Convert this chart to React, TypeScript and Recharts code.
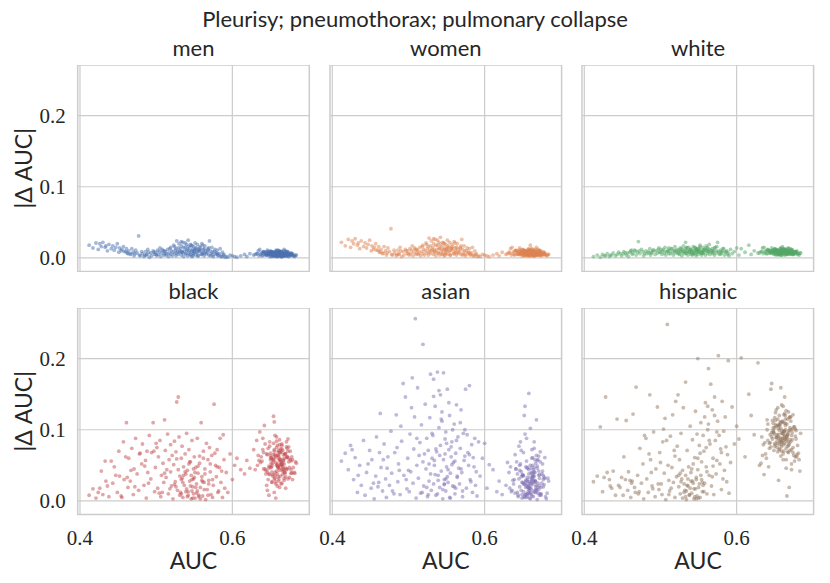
import { ScatterChart, Scatter, XAxis, YAxis, CartesianGrid, ReferenceArea } from 'recharts';

// model AUC (shared by all groups), one entry per model
const auc = [
  0.412, 0.417, 0.421, 0.424, 0.428, 0.430, 0.433, 0.436, 0.438, 0.441,
  0.443, 0.445, 0.449, 0.451, 0.452, 0.455, 0.457, 0.458, 0.461, 0.463,
  0.464, 0.466, 0.468, 0.470, 0.471, 0.473, 0.475, 0.477, 0.478, 0.481,
  0.482, 0.484, 0.486, 0.487, 0.489, 0.491, 0.493, 0.494, 0.496, 0.498,
  0.499, 0.501, 0.502, 0.503, 0.505, 0.506, 0.507, 0.509, 0.510, 0.511,
  0.512, 0.513, 0.515, 0.516, 0.517, 0.519, 0.519, 0.520, 0.521, 0.522,
  0.523, 0.524, 0.525, 0.526, 0.527, 0.528, 0.529, 0.529, 0.530, 0.531,
  0.532, 0.533, 0.533, 0.534, 0.535, 0.536, 0.537, 0.538, 0.539, 0.540,
  0.540, 0.541, 0.542, 0.543, 0.544, 0.545, 0.546, 0.546, 0.547, 0.548,
  0.549, 0.549, 0.550, 0.551, 0.552, 0.553, 0.554, 0.554, 0.555, 0.556,
  0.557, 0.558, 0.559, 0.560, 0.561, 0.562, 0.563, 0.564, 0.565, 0.566,
  0.567, 0.568, 0.569, 0.570, 0.571, 0.572, 0.573, 0.575, 0.576, 0.578,
  0.579, 0.580, 0.581, 0.583, 0.584, 0.585, 0.587, 0.588, 0.589, 0.590,
  0.592, 0.594, 0.597, 0.600, 0.603, 0.606, 0.611, 0.616, 0.619, 0.623,
  0.628, 0.641, 0.655, 0.662, 0.670, 0.649, 0.677, 0.659, 0.645, 0.666,
  0.632, 0.651, 0.660, 0.668, 0.674, 0.646, 0.657, 0.663, 0.681, 0.653,
  0.636, 0.648, 0.656, 0.664, 0.671, 0.652, 0.661, 0.667, 0.643, 0.675,
  0.639, 0.654, 0.658, 0.665, 0.672, 0.650, 0.662, 0.669, 0.684, 0.647,
  0.642, 0.657, 0.661, 0.667, 0.673, 0.653, 0.659, 0.664, 0.679, 0.655,
  0.644, 0.650, 0.663, 0.666, 0.670, 0.656, 0.660, 0.668, 0.676, 0.648,
  0.646, 0.658, 0.662, 0.669, 0.674, 0.652, 0.665, 0.671, 0.680, 0.634,
  0.649, 0.655, 0.660, 0.665, 0.672, 0.657, 0.663, 0.668, 0.678, 0.640,
  0.651, 0.656, 0.661, 0.667, 0.671, 0.654, 0.659, 0.664, 0.682, 0.630,
  0.426, 0.447, 0.460, 0.472, 0.485, 0.497, 0.508, 0.514, 0.524, 0.531,
  0.535, 0.538, 0.541, 0.544, 0.547, 0.550, 0.552, 0.555, 0.558, 0.561,
  0.434, 0.454, 0.467, 0.479, 0.490, 0.500, 0.511, 0.518, 0.527, 0.533,
  0.536, 0.539, 0.543, 0.545, 0.548, 0.551, 0.553, 0.557, 0.560, 0.563,
  0.564, 0.568, 0.571, 0.574, 0.577, 0.582, 0.586, 0.462, 0.488, 0.504,
  0.526, 0.534, 0.542, 0.549, 0.556, 0.562, 0.569, 0.574, 0.580, 0.547,
  0.633, 0.645, 0.652, 0.658, 0.663, 0.667, 0.672, 0.677, 0.655, 0.661,
  0.637, 0.648, 0.654, 0.659, 0.664, 0.668, 0.673, 0.679, 0.650, 0.666,
  0.640, 0.647, 0.653, 0.660, 0.662, 0.669, 0.674, 0.656, 0.665, 0.671,
  0.643, 0.649, 0.656, 0.661, 0.666, 0.670, 0.676, 0.652, 0.658, 0.663,
  0.638, 0.651, 0.657, 0.662, 0.667, 0.672, 0.678, 0.654, 0.660, 0.665,
  0.644, 0.650, 0.655, 0.659, 0.664, 0.669, 0.675, 0.683, 0.657, 0.662,
  0.641, 0.646, 0.653, 0.658, 0.663, 0.668, 0.673, 0.651, 0.660, 0.666,
  0.635, 0.648, 0.654, 0.661, 0.665, 0.670, 0.677, 0.656, 0.659, 0.664,
];

// |delta AUC| per group, same order as auc
const menDelta = [
  0.018, 0.014, 0.021, 0.012, 0.016, 0.022, 0.015, 0.010, 0.019, 0.013,
  0.017, 0.011, 0.020, 0.008, 0.014, 0.012, 0.016, 0.009, 0.013, 0.006,
  0.010, 0.005, 0.013, 0.008, 0.003, 0.011, 0.007, 0.031, 0.004, 0.009,
  0.006, 0.002, 0.009, 0.004, 0.012, 0.001, 0.007, 0.003, 0.010, 0.005,
  0.008, 0.003, 0.011, 0.005, 0.014, 0.002, 0.007, 0.010, 0.004, 0.006,
  0.009, 0.004, 0.012, 0.002, 0.007, 0.015, 0.005, 0.010, 0.003, 0.008,
  0.018, 0.006, 0.011, 0.003, 0.024, 0.009, 0.014, 0.005, 0.020, 0.008,
  0.013, 0.004, 0.017, 0.008, 0.022, 0.002, 0.010, 0.015, 0.006, 0.019,
  0.011, 0.003, 0.025, 0.007, 0.014, 0.005, 0.018, 0.009, 0.002, 0.012,
  0.016, 0.006, 0.010, 0.021, 0.004, 0.013, 0.008, 0.019, 0.003, 0.011,
  0.009, 0.014, 0.005, 0.020, 0.007, 0.012, 0.003, 0.017, 0.010, 0.006,
  0.008, 0.013, 0.004, 0.024, 0.010, 0.006, 0.015, 0.002, 0.009, 0.005,
  0.007, 0.011, 0.003, 0.006, 0.013, 0.002, 0.008, 0.004, 0.005, 0.001,
  0.002, 0.001, 0.004, 0.003, 0.002, 0.001, 0.003, 0.005, 0.002, 0.006,
  0.004, 0.008, 0.006, 0.003, 0.010, 0.005, 0.007, 0.002, 0.009, 0.004,
  0.006, 0.003, 0.009, 0.005, 0.002, 0.011, 0.004, 0.007, 0.003, 0.008,
  0.012, 0.005, 0.003, 0.008, 0.006, 0.002, 0.010, 0.004, 0.007, 0.005,
  0.003, 0.007, 0.011, 0.002, 0.005, 0.008, 0.006, 0.003, 0.004, 0.009,
  0.008, 0.004, 0.006, 0.010, 0.003, 0.005, 0.002, 0.009, 0.006, 0.007,
  0.005, 0.010, 0.002, 0.006, 0.008, 0.004, 0.011, 0.003, 0.005, 0.006,
  0.007, 0.003, 0.008, 0.004, 0.006, 0.009, 0.002, 0.005, 0.003, 0.010,
  0.002, 0.006, 0.004, 0.009, 0.003, 0.007, 0.005, 0.012, 0.006, 0.004,
  0.009, 0.002, 0.007, 0.005, 0.004, 0.003, 0.008, 0.006, 0.002, 0.005,
  0.020, 0.015, 0.009, 0.006, 0.004, 0.008, 0.012, 0.006, 0.016, 0.010,
  0.007, 0.021, 0.012, 0.004, 0.017, 0.009, 0.014, 0.003, 0.011, 0.018,
  0.017, 0.010, 0.006, 0.003, 0.008, 0.005, 0.010, 0.013, 0.007, 0.023,
  0.015, 0.006, 0.010, 0.019, 0.003, 0.012, 0.008, 0.016, 0.005, 0.013,
  0.006, 0.011, 0.003, 0.008, 0.012, 0.004, 0.002, 0.007, 0.005, 0.009,
  0.013, 0.009, 0.016, 0.006, 0.012, 0.008, 0.014, 0.004, 0.006, 0.010,
  0.006, 0.004, 0.008, 0.005, 0.007, 0.003, 0.009, 0.005, 0.006, 0.004,
  0.005, 0.007, 0.003, 0.009, 0.004, 0.006, 0.008, 0.004, 0.007, 0.005,
  0.008, 0.005, 0.006, 0.003, 0.010, 0.005, 0.004, 0.007, 0.006, 0.003,
  0.004, 0.009, 0.005, 0.007, 0.006, 0.008, 0.003, 0.006, 0.004, 0.008,
  0.007, 0.003, 0.010, 0.005, 0.004, 0.006, 0.005, 0.008, 0.006, 0.002,
  0.005, 0.006, 0.004, 0.008, 0.007, 0.003, 0.006, 0.004, 0.009, 0.005,
  0.009, 0.004, 0.007, 0.006, 0.003, 0.005, 0.008, 0.006, 0.004, 0.007,
  0.003, 0.006, 0.005, 0.004, 0.008, 0.007, 0.004, 0.005, 0.007, 0.006,
];

const womenDelta = [
  0.022, 0.017, 0.026, 0.015, 0.020, 0.027, 0.018, 0.013, 0.024, 0.016,
  0.021, 0.014, 0.025, 0.010, 0.017, 0.015, 0.020, 0.011, 0.016, 0.008,
  0.012, 0.006, 0.016, 0.010, 0.004, 0.014, 0.009, 0.041, 0.005, 0.011,
  0.007, 0.003, 0.011, 0.005, 0.015, 0.002, 0.009, 0.004, 0.012, 0.006,
  0.010, 0.004, 0.013, 0.006, 0.017, 0.003, 0.008, 0.012, 0.005, 0.007,
  0.011, 0.005, 0.015, 0.003, 0.009, 0.018, 0.006, 0.012, 0.004, 0.010,
  0.021, 0.007, 0.013, 0.004, 0.028, 0.011, 0.017, 0.006, 0.024, 0.010,
  0.015, 0.005, 0.020, 0.009, 0.026, 0.003, 0.012, 0.018, 0.007, 0.022,
  0.013, 0.004, 0.029, 0.008, 0.016, 0.006, 0.021, 0.011, 0.003, 0.014,
  0.019, 0.007, 0.012, 0.025, 0.005, 0.015, 0.009, 0.022, 0.004, 0.013,
  0.011, 0.016, 0.006, 0.023, 0.008, 0.014, 0.004, 0.020, 0.012, 0.007,
  0.009, 0.015, 0.005, 0.026, 0.012, 0.007, 0.017, 0.003, 0.010, 0.006,
  0.008, 0.013, 0.004, 0.007, 0.015, 0.003, 0.010, 0.005, 0.006, 0.002,
  0.003, 0.002, 0.005, 0.004, 0.003, 0.002, 0.004, 0.006, 0.003, 0.008,
  0.005, 0.010, 0.007, 0.004, 0.012, 0.006, 0.009, 0.003, 0.011, 0.005,
  0.008, 0.004, 0.011, 0.006, 0.003, 0.014, 0.005, 0.009, 0.004, 0.010,
  0.015, 0.006, 0.004, 0.010, 0.007, 0.003, 0.012, 0.005, 0.009, 0.006,
  0.004, 0.009, 0.013, 0.003, 0.006, 0.010, 0.008, 0.004, 0.005, 0.011,
  0.010, 0.005, 0.008, 0.012, 0.004, 0.006, 0.003, 0.011, 0.007, 0.009,
  0.006, 0.012, 0.003, 0.008, 0.010, 0.005, 0.018, 0.004, 0.006, 0.007,
  0.009, 0.004, 0.010, 0.005, 0.008, 0.011, 0.003, 0.006, 0.004, 0.013,
  0.003, 0.008, 0.005, 0.011, 0.004, 0.009, 0.006, 0.015, 0.007, 0.005,
  0.011, 0.003, 0.009, 0.006, 0.005, 0.004, 0.010, 0.008, 0.003, 0.006,
  0.024, 0.019, 0.011, 0.007, 0.005, 0.010, 0.014, 0.007, 0.019, 0.012,
  0.008, 0.025, 0.014, 0.005, 0.020, 0.011, 0.017, 0.004, 0.013, 0.021,
  0.021, 0.012, 0.007, 0.004, 0.010, 0.006, 0.012, 0.016, 0.008, 0.027,
  0.018, 0.007, 0.012, 0.022, 0.004, 0.014, 0.010, 0.019, 0.006, 0.015,
  0.007, 0.013, 0.004, 0.010, 0.014, 0.005, 0.003, 0.008, 0.006, 0.011,
  0.016, 0.011, 0.019, 0.007, 0.014, 0.010, 0.017, 0.005, 0.007, 0.012,
  0.007, 0.005, 0.010, 0.006, 0.009, 0.004, 0.011, 0.006, 0.008, 0.005,
  0.006, 0.009, 0.004, 0.011, 0.005, 0.008, 0.010, 0.005, 0.009, 0.006,
  0.010, 0.006, 0.008, 0.004, 0.013, 0.006, 0.005, 0.009, 0.007, 0.004,
  0.005, 0.011, 0.006, 0.009, 0.008, 0.010, 0.004, 0.007, 0.005, 0.010,
  0.009, 0.004, 0.012, 0.006, 0.005, 0.008, 0.006, 0.010, 0.007, 0.003,
  0.006, 0.008, 0.005, 0.010, 0.009, 0.004, 0.007, 0.005, 0.011, 0.006,
  0.011, 0.005, 0.009, 0.007, 0.004, 0.006, 0.010, 0.008, 0.005, 0.009,
  0.004, 0.007, 0.006, 0.005, 0.010, 0.009, 0.005, 0.006, 0.008, 0.007,
];

const whiteDelta = [
  0.002, 0.004, 0.001, 0.005, 0.003, 0.006, 0.002, 0.004, 0.007, 0.003,
  0.005, 0.008, 0.003, 0.006, 0.009, 0.004, 0.007, 0.002, 0.010, 0.005,
  0.007, 0.011, 0.004, 0.008, 0.023, 0.006, 0.012, 0.009, 0.003, 0.010,
  0.006, 0.009, 0.013, 0.004, 0.008, 0.011, 0.005, 0.010, 0.007, 0.014,
  0.008, 0.012, 0.005, 0.010, 0.007, 0.015, 0.004, 0.009, 0.011, 0.006,
  0.010, 0.006, 0.013, 0.008, 0.004, 0.011, 0.016, 0.007, 0.009, 0.012,
  0.007, 0.011, 0.005, 0.014, 0.009, 0.003, 0.012, 0.008, 0.017, 0.006,
  0.009, 0.013, 0.022, 0.006, 0.010, 0.004, 0.015, 0.008, 0.011, 0.005,
  0.012, 0.007, 0.004, 0.016, 0.009, 0.011, 0.006, 0.014, 0.003, 0.008,
  0.010, 0.005, 0.013, 0.008, 0.018, 0.006, 0.011, 0.004, 0.009, 0.015,
  0.007, 0.012, 0.004, 0.010, 0.014, 0.006, 0.009, 0.019, 0.005, 0.011,
  0.008, 0.013, 0.006, 0.010, 0.004, 0.015, 0.007, 0.022, 0.009, 0.005,
  0.011, 0.006, 0.009, 0.013, 0.004, 0.008, 0.010, 0.005, 0.007, 0.003,
  0.012, 0.006, 0.009, 0.014, 0.004, 0.013, 0.008, 0.018, 0.005, 0.010,
  0.007, 0.011, 0.005, 0.009, 0.013, 0.006, 0.008, 0.004, 0.010, 0.007,
  0.009, 0.006, 0.012, 0.008, 0.005, 0.014, 0.007, 0.010, 0.006, 0.011,
  0.015, 0.008, 0.006, 0.011, 0.009, 0.004, 0.013, 0.007, 0.010, 0.005,
  0.006, 0.010, 0.014, 0.005, 0.008, 0.012, 0.009, 0.006, 0.007, 0.011,
  0.011, 0.007, 0.009, 0.013, 0.005, 0.008, 0.004, 0.012, 0.010, 0.006,
  0.008, 0.013, 0.004, 0.009, 0.011, 0.007, 0.016, 0.005, 0.008, 0.009,
  0.010, 0.005, 0.011, 0.007, 0.009, 0.012, 0.006, 0.008, 0.005, 0.014,
  0.005, 0.009, 0.007, 0.012, 0.006, 0.010, 0.008, 0.014, 0.009, 0.006,
  0.012, 0.004, 0.010, 0.008, 0.006, 0.005, 0.011, 0.009, 0.004, 0.007,
  0.003, 0.006, 0.008, 0.010, 0.007, 0.012, 0.009, 0.013, 0.006, 0.010,
  0.014, 0.008, 0.011, 0.006, 0.013, 0.009, 0.016, 0.007, 0.012, 0.010,
  0.004, 0.007, 0.010, 0.006, 0.011, 0.008, 0.014, 0.010, 0.013, 0.007,
  0.009, 0.012, 0.006, 0.015, 0.010, 0.013, 0.008, 0.011, 0.017, 0.009,
  0.012, 0.008, 0.014, 0.010, 0.006, 0.013, 0.009, 0.011, 0.007, 0.012,
  0.010, 0.015, 0.008, 0.012, 0.007, 0.014, 0.010, 0.016, 0.009, 0.011,
  0.009, 0.007, 0.011, 0.008, 0.010, 0.006, 0.012, 0.008, 0.009, 0.007,
  0.008, 0.010, 0.006, 0.012, 0.007, 0.009, 0.011, 0.007, 0.010, 0.008,
  0.011, 0.008, 0.009, 0.006, 0.013, 0.008, 0.007, 0.010, 0.009, 0.006,
  0.007, 0.012, 0.008, 0.010, 0.009, 0.011, 0.006, 0.009, 0.007, 0.011,
  0.010, 0.006, 0.013, 0.008, 0.007, 0.009, 0.008, 0.011, 0.009, 0.005,
  0.008, 0.009, 0.007, 0.011, 0.010, 0.006, 0.009, 0.007, 0.012, 0.008,
  0.012, 0.007, 0.010, 0.009, 0.006, 0.008, 0.011, 0.009, 0.007, 0.010,
  0.006, 0.009, 0.008, 0.007, 0.011, 0.010, 0.007, 0.008, 0.010, 0.009,
];

const blackDelta = [
  0.008, 0.017, 0.004, 0.012, 0.042, 0.009, 0.056, 0.021, 0.006, 0.056,
  0.025, 0.048, 0.012, 0.070, 0.035, 0.005, 0.083, 0.030, 0.110, 0.019,
  0.060, 0.028, 0.074, 0.009, 0.045, 0.088, 0.038, 0.015, 0.066, 0.052,
  0.080, 0.022, 0.057, 0.004, 0.040, 0.092, 0.031, 0.068, 0.110, 0.013,
  0.047, 0.075, 0.018, 0.062, 0.085, 0.006, 0.036, 0.053, 0.026, 0.114,
  0.071, 0.033, 0.094, 0.010, 0.058, 0.041, 0.079, 0.021, 0.064, 0.003,
  0.051, 0.084, 0.027, 0.069, 0.139, 0.015, 0.146, 0.044, 0.090, 0.035,
  0.012, 0.060, 0.030, 0.077, 0.005, 0.048, 0.022, 0.066, 0.038, 0.095,
  0.017, 0.043, 0.008, 0.072, 0.028, 0.055, 0.003, 0.036, 0.085, 0.020,
  0.010, 0.031, 0.062, 0.004, 0.047, 0.024, 0.088, 0.014, 0.039, 0.006,
  0.053, 0.019, 0.110, 0.034, 0.007, 0.070, 0.026, 0.045, 0.002, 0.081,
  0.016, 0.058, 0.029, 0.075, 0.041, 0.009, 0.064, 0.022, 0.136, 0.050,
  0.034, 0.072, 0.012, 0.047, 0.088, 0.026, 0.005, 0.093, 0.058, 0.018,
  0.040, 0.012, 0.066, 0.030, 0.050, 0.060, 0.044, 0.038, 0.057, 0.046,
  0.072, 0.045, 0.031, 0.058, 0.066, 0.083, 0.039, 0.052, 0.022, 0.049,
  0.085, 0.061, 0.047, 0.029, 0.076, 0.015, 0.054, 0.068, 0.040, 0.035,
  0.097, 0.038, 0.063, 0.051, 0.044, 0.026, 0.071, 0.057, 0.080, 0.033,
  0.056, 0.119, 0.042, 0.078, 0.062, 0.048, 0.019, 0.066, 0.053, 0.074,
  0.106, 0.024, 0.059, 0.046, 0.087, 0.037, 0.064, 0.052, 0.030, 0.012,
  0.043, 0.067, 0.055, 0.071, 0.034, 0.092, 0.048, 0.060, 0.058, 0.008,
  0.065, 0.050, 0.079, 0.039, 0.060, 0.027, 0.045, 0.083, 0.047, 0.064,
  0.037, 0.111, 0.069, 0.054, 0.045, 0.004, 0.073, 0.041, 0.062, 0.088,
  0.060, 0.032, 0.046, 0.065, 0.076, 0.057, 0.021, 0.050, 0.039, 0.044,
  0.018, 0.036, 0.062, 0.020, 0.049, 0.070, 0.012, 0.044, 0.023, 0.008,
  0.026, 0.041, 0.006, 0.055, 0.014, 0.033, 0.019, 0.049, 0.003, 0.027,
  0.028, 0.007, 0.043, 0.067, 0.025, 0.081, 0.039, 0.017, 0.059, 0.010,
  0.036, 0.013, 0.052, 0.021, 0.004, 0.040, 0.011, 0.063, 0.029, 0.016,
  0.038, 0.008, 0.052, 0.030, 0.067, 0.014, 0.042, 0.033, 0.070, 0.011,
  0.020, 0.032, 0.013, 0.045, 0.008, 0.060, 0.024, 0.005, 0.048, 0.030,
  0.050, 0.066, 0.041, 0.075, 0.035, 0.057, 0.062, 0.044, 0.070, 0.028,
  0.054, 0.046, 0.081, 0.038, 0.069, 0.052, 0.031, 0.058, 0.063, 0.042,
  0.072, 0.030, 0.059, 0.048, 0.086, 0.040, 0.055, 0.065, 0.025, 0.061,
  0.045, 0.077, 0.036, 0.063, 0.052, 0.018, 0.070, 0.049, 0.090, 0.057,
  0.062, 0.053, 0.027, 0.068, 0.044, 0.074, 0.039, 0.058, 0.034, 0.080,
  0.038, 0.058, 0.072, 0.050, 0.024, 0.066, 0.047, 0.055, 0.061, 0.043,
  0.068, 0.041, 0.053, 0.084, 0.059, 0.032, 0.070, 0.047, 0.064, 0.037,
  0.057, 0.049, 0.065, 0.031, 0.073, 0.046, 0.056, 0.040, 0.078, 0.051,
];

const asianDelta = [
  0.056, 0.067, 0.044, 0.078, 0.030, 0.061, 0.012, 0.050, 0.022, 0.085,
  0.008, 0.040, 0.071, 0.018, 0.058, 0.003, 0.035, 0.090, 0.026, 0.123,
  0.047, 0.014, 0.080, 0.031, 0.005, 0.062, 0.022, 0.098, 0.039, 0.010,
  0.068, 0.121, 0.027, 0.052, 0.009, 0.084, 0.165, 0.036, 0.146, 0.017,
  0.060, 0.013, 0.094, 0.041, 0.173, 0.025, 0.073, 0.256, 0.004, 0.050,
  0.159, 0.032, 0.082, 0.011, 0.107, 0.055, 0.220, 0.021, 0.066, 0.136,
  0.045, 0.088, 0.006, 0.071, 0.028, 0.117, 0.038, 0.178, 0.015, 0.060,
  0.092, 0.171, 0.024, 0.050, 0.133, 0.008, 0.069, 0.181, 0.036, 0.103,
  0.155, 0.019, 0.078, 0.042, 0.112, 0.003, 0.058, 0.180, 0.030, 0.087,
  0.014, 0.097, 0.048, 0.157, 0.026, 0.072, 0.005, 0.120, 0.039, 0.062,
  0.083, 0.021, 0.054, 0.108, 0.010, 0.067, 0.135, 0.033, 0.090, 0.046,
  0.024, 0.074, 0.128, 0.040, 0.006, 0.095, 0.057, 0.157, 0.018, 0.068,
  0.050, 0.162, 0.030, 0.079, 0.012, 0.061, 0.088, 0.022, 0.041, 0.007,
  0.083, 0.035, 0.060, 0.081, 0.018, 0.051, 0.044, 0.013, 0.028, 0.009,
  0.022, 0.045, 0.010, 0.031, 0.058, 0.004, 0.036, 0.018, 0.077, 0.027,
  0.040, 0.013, 0.025, 0.064, 0.008, 0.050, 0.020, 0.035, 0.003, 0.094,
  0.015, 0.071, 0.033, 0.006, 0.042, 0.120, 0.026, 0.053, 0.012, 0.038,
  0.030, 0.009, 0.151, 0.047, 0.021, 0.036, 0.060, 0.002, 0.028, 0.083,
  0.055, 0.024, 0.039, 0.016, 0.069, 0.133, 0.011, 0.044, 0.032, 0.005,
  0.008, 0.037, 0.061, 0.028, 0.019, 0.046, 0.102, 0.014, 0.052, 0.034,
  0.043, 0.017, 0.029, 0.057, 0.010, 0.024, 0.074, 0.036, 0.006, 0.048,
  0.026, 0.088, 0.012, 0.041, 0.032, 0.019, 0.050, 0.114, 0.023, 0.065,
  0.035, 0.007, 0.046, 0.020, 0.063, 0.029, 0.015, 0.039, 0.011, 0.054,
  0.072, 0.052, 0.020, 0.046, 0.075, 0.030, 0.118, 0.064, 0.019, 0.095,
  0.037, 0.010, 0.064, 0.125, 0.023, 0.081, 0.044, 0.004, 0.100, 0.056,
  0.036, 0.025, 0.058, 0.014, 0.105, 0.043, 0.088, 0.012, 0.052, 0.147,
  0.073, 0.029, 0.115, 0.016, 0.066, 0.034, 0.138, 0.051, 0.020, 0.085,
  0.035, 0.110, 0.014, 0.063, 0.093, 0.027, 0.048, 0.068, 0.043, 0.131,
  0.009, 0.057, 0.149, 0.031, 0.076, 0.018, 0.045, 0.100, 0.065, 0.024,
  0.018, 0.031, 0.006, 0.044, 0.024, 0.012, 0.037, 0.020, 0.056, 0.009,
  0.029, 0.015, 0.048, 0.004, 0.034, 0.022, 0.010, 0.061, 0.026, 0.040,
  0.011, 0.052, 0.023, 0.033, 0.007, 0.046, 0.019, 0.028, 0.083, 0.016,
  0.038, 0.009, 0.030, 0.017, 0.058, 0.025, 0.042, 0.005, 0.021, 0.035,
  0.024, 0.068, 0.013, 0.040, 0.027, 0.008, 0.033, 0.019, 0.050, 0.012,
  0.006, 0.036, 0.021, 0.027, 0.014, 0.049, 0.025, 0.032, 0.010, 0.072,
  0.045, 0.020, 0.009, 0.038, 0.031, 0.016, 0.055, 0.024, 0.003, 0.029,
  0.013, 0.041, 0.027, 0.022, 0.035, 0.011, 0.030, 0.047, 0.018, 0.026,
];

const hispanicDelta = [
  0.027, 0.035, 0.104, 0.013, 0.146, 0.040, 0.030, 0.018, 0.042, 0.008,
  0.115, 0.022, 0.033, 0.008, 0.062, 0.113, 0.015, 0.041, 0.005, 0.028,
  0.122, 0.019, 0.160, 0.036, 0.010, 0.074, 0.025, 0.052, 0.003, 0.088,
  0.031, 0.012, 0.149, 0.058, 0.021, 0.097, 0.006, 0.045, 0.132, 0.016,
  0.068, 0.024, 0.009, 0.083, 0.039, 0.116, 0.002, 0.248, 0.050, 0.029,
  0.014, 0.091, 0.047, 0.121, 0.026, 0.063, 0.005, 0.140, 0.034, 0.077,
  0.149, 0.020, 0.058, 0.010, 0.095, 0.031, 0.004, 0.043, 0.131, 0.024,
  0.015, 0.167, 0.036, 0.002, 0.071, 0.021, 0.048, 0.009, 0.105, 0.028,
  0.040, 0.011, 0.086, 0.025, 0.003, 0.061, 0.017, 0.126, 0.033, 0.007,
  0.044, 0.200, 0.019, 0.078, 0.005, 0.110, 0.030, 0.055, 0.013, 0.092,
  0.070, 0.025, 0.138, 0.048, 0.010, 0.100, 0.186, 0.036, 0.080, 0.164,
  0.021, 0.128, 0.060, 0.009, 0.146, 0.085, 0.038, 0.112, 0.204, 0.052,
  0.073, 0.016, 0.140, 0.098, 0.043, 0.118, 0.027, 0.065, 0.197, 0.011,
  0.054, 0.132, 0.080, 0.105, 0.087, 0.201, 0.062, 0.150, 0.120, 0.093,
  0.194, 0.085, 0.102, 0.070, 0.118, 0.094, 0.062, 0.079, 0.157, 0.108,
  0.053, 0.124, 0.088, 0.097, 0.075, 0.165, 0.111, 0.146, 0.067, 0.091,
  0.037, 0.099, 0.072, 0.115, 0.083, 0.128, 0.058, 0.093, 0.081, 0.104,
  0.060, 0.106, 0.159, 0.087, 0.052, 0.077, 0.121, 0.019, 0.095, 0.113,
  0.048, 0.089, 0.133, 0.069, 0.101, 0.084, 0.076, 0.109, 0.065, 0.029,
  0.082, 0.117, 0.092, 0.007, 0.086, 0.073, 0.098, 0.125, 0.056, 0.103,
  0.096, 0.063, 0.110, 0.080, 0.121, 0.089, 0.046, 0.100, 0.078, 0.064,
  0.071, 0.093, 0.084, 0.127, 0.044, 0.107, 0.090, 0.068, 0.099, 0.114,
  0.107, 0.079, 0.066, 0.094, 0.112, 0.081, 0.135, 0.087, 0.058, 0.050,
  0.033, 0.019, 0.029, 0.013, 0.066, 0.024, 0.085, 0.018, 0.036, 0.012,
  0.022, 0.008, 0.045, 0.017, 0.030, 0.004, 0.067, 0.026, 0.118, 0.041,
  0.021, 0.030, 0.012, 0.092, 0.017, 0.054, 0.009, 0.071, 0.027, 0.006,
  0.031, 0.018, 0.052, 0.006, 0.094, 0.024, 0.036, 0.013, 0.075, 0.108,
  0.085, 0.034, 0.120, 0.057, 0.092, 0.031, 0.076, 0.025, 0.040, 0.101,
  0.039, 0.014, 0.028, 0.060, 0.022, 0.133, 0.049, 0.097, 0.068, 0.003,
  0.090, 0.076, 0.105, 0.083, 0.097, 0.115, 0.072, 0.101, 0.088, 0.094,
  0.082, 0.109, 0.069, 0.095, 0.120, 0.078, 0.086, 0.062, 0.103, 0.091,
  0.100, 0.087, 0.093, 0.112, 0.079, 0.099, 0.068, 0.106, 0.084, 0.118,
  0.074, 0.096, 0.120, 0.085, 0.091, 0.071, 0.104, 0.089, 0.110, 0.081,
  0.066, 0.113, 0.084, 0.098, 0.077, 0.092, 0.087, 0.131, 0.095, 0.058,
  0.093, 0.081, 0.107, 0.070, 0.100, 0.117, 0.064, 0.042, 0.086, 0.098,
  0.108, 0.090, 0.075, 0.102, 0.123, 0.083, 0.096, 0.079, 0.111, 0.088,
  0.079, 0.097, 0.115, 0.088, 0.074, 0.103, 0.091, 0.099, 0.082, 0.106,
];

const groups = ['men', 'women', 'white', 'black', 'asian', 'hispanic'];
const groupDeltas = [menDelta, womenDelta, whiteDelta, blackDelta, asianDelta, hispanicDelta];
// seaborn "deep" palette
const groupColors = ['#4c72b0', '#dd8452', '#55a868', '#c44e52', '#8172b3', '#937860'];

const xTicks = [0.4, 0.6];
const yTicks = [0, 0.1, 0.2];

const TITLE = 'Pleurisy; pneumothorax; pulmonary collapse';
const X_DOMAIN: [number, number] = [0.397, 0.701];
const Y_DOMAIN: [number, number] = [-0.019, 0.271];

// plot-area geometry (px)
const PLOT_W = 231.6;
const PLOT_H = 206.5;
const COL_X = [77.7, 330, 582.3];
const ROW_Y = [65, 308];
const Y_AXIS_W = 77.7;
const X_AXIS_H = 40;
const PAD = 18; // room for edge tick labels

const GRID = '#cccccc';
const TEXT = '#262626';
const SANS = 'Lato, "Open Sans", sans-serif';
const SERIF = '"Liberation Serif", serif';

function Panel({ index }: { index: number }) {
  const row = Math.floor(index / 3);
  const col = index % 3;
  const showY = col === 0;
  const showX = row === 1;
  const color = groupColors[index];
  const delta = groupDeltas[index];
  const data = auc.map((x, i) => ({ auc: x, delta: delta[i] }));
  const leftPad = showY ? 0 : PAD;
  const w = PLOT_W + (showY ? Y_AXIS_W : 0) + leftPad + PAD;
  const h = PLOT_H + (showX ? X_AXIS_H : 0);

  return (
    <div style={{ position: 'absolute', left: COL_X[col] - (showY ? Y_AXIS_W : 0) - leftPad, top: ROW_Y[row] }}>
      <ScatterChart width={w} height={h} margin={{ top: 0, right: PAD, bottom: 0, left: leftPad }}>
        <CartesianGrid stroke={GRID} strokeWidth={1.2} verticalValues={xTicks} horizontalValues={yTicks} />
        <XAxis
          type="number"
          dataKey="auc"
          domain={X_DOMAIN}
          allowDataOverflow
          ticks={xTicks}
          interval={0}
          hide={!showX}
          height={X_AXIS_H}
          tickLine={false}
          axisLine={false}
          tickSize={0}
          tickMargin={16}
          tick={{ fontFamily: SERIF, fontSize: 21, fill: TEXT }}
          tickFormatter={(v) => Number(v).toFixed(1)}
        />
        <YAxis
          type="number"
          dataKey="delta"
          domain={Y_DOMAIN}
          allowDataOverflow
          ticks={yTicks}
          interval={0}
          hide={!showY}
          width={Y_AXIS_W}
          tickLine={false}
          axisLine={false}
          tickSize={0}
          tickMargin={12}
          tick={{ fontFamily: SERIF, fontSize: 21, fill: TEXT }}
          tickFormatter={(v) => Number(v).toFixed(1)}
        />
        <ReferenceArea
          x1={X_DOMAIN[0]}
          x2={X_DOMAIN[1]}
          y1={Y_DOMAIN[0]}
          y2={Y_DOMAIN[1]}
          fill="none"
          stroke={GRID}
          strokeWidth={1.5}
          ifOverflow="visible"
        />
        <Scatter
          data={data}
          isAnimationActive={false}
          shape={(p: any) => <circle cx={p.cx} cy={p.cy} r={1.9} fill={color} fillOpacity={0.5} />}
        />
      </ScatterChart>
    </div>
  );
}

export default function App() {
  return (
    <div style={{ position: 'absolute', left: 0, top: 0, width: 830, height: 583, background: '#fff' }}>
      {groups.map((g, i) => (
        <Panel key={g} index={i} />
      ))}
      <svg width={830} height={583} style={{ position: 'absolute', left: 0, top: 0, pointerEvents: 'none' }}>
        <text x={415} y={27} textAnchor="middle" fontFamily={SANS} fontSize={22} fill={TEXT}>
          {TITLE}
        </text>
        {groups.map((g, i) => {
          const row = Math.floor(i / 3);
          const col = i % 3;
          return (
            <text key={g} x={COL_X[col] + PLOT_W / 2} y={ROW_Y[row] - 9} textAnchor="middle" fontFamily={SANS} fontSize={22} fill={TEXT}>
              {g}
            </text>
          );
        })}
        {ROW_Y.map((top) => (
          <text
            key={top}
            transform={`translate(32, ${top + PLOT_H / 2}) rotate(-90)`}
            textAnchor="middle"
            fontFamily={SANS}
            fontSize={23}
            fill={TEXT}
          >
            |Δ AUC|
          </text>
        ))}
        {COL_X.map((left) => (
          <text key={left} x={left + PLOT_W / 2} y={569} textAnchor="middle" fontFamily={SANS} fontSize={23} fill={TEXT}>
            AUC
          </text>
        ))}
      </svg>
    </div>
  );
}
